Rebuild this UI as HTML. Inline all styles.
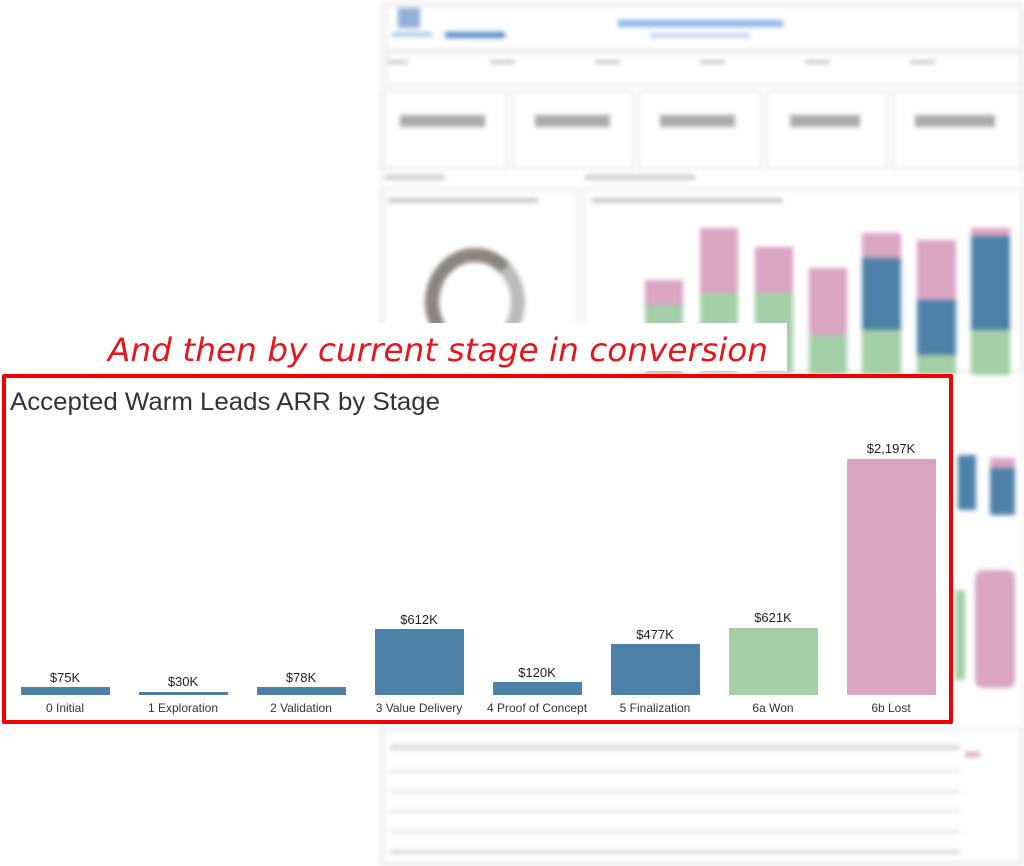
<!DOCTYPE html>
<html><head><meta charset="utf-8"><style>
body{margin:0;width:1024px;height:866px;background:#fff;position:relative;overflow:hidden;font-family:"Liberation Sans",sans-serif}
.bg{position:absolute;left:0;top:0;width:1024px;height:866px;filter:blur(2.5px)}
.a{position:absolute}
.box{position:absolute;border:2px solid #e6e6e6;background:#fff}
.g{position:absolute;background:#c9c9c9}
</style></head><body>
<div class="bg">
 <div class="box" style="left:380px;top:2px;width:640px;height:860px;border-color:#eee"></div>
 <div class="box" style="left:385px;top:5px;width:633px;height:42px"></div>
 <div class="a" style="left:398px;top:8px;width:22px;height:20px;background:#8fb0d8"></div>
 <div class="a" style="left:392px;top:32px;width:40px;height:5px;background:#b7cbe6"></div>
 <div class="a" style="left:445px;top:32px;width:60px;height:6px;background:#5a88c8"></div>
 <div class="a" style="left:618px;top:20px;width:165px;height:7px;background:#8fb5e6"></div>
 <div class="a" style="left:650px;top:33px;width:100px;height:5px;background:#c5d7f0"></div>
 <div class="box" style="left:385px;top:52px;width:633px;height:30px"></div>
 <div class="g" style="left:388px;top:60px;width:20px;height:4px"></div>
 <div class="g" style="left:490px;top:60px;width:25px;height:4px"></div>
 <div class="g" style="left:595px;top:60px;width:25px;height:4px"></div>
 <div class="g" style="left:700px;top:60px;width:25px;height:4px"></div>
 <div class="g" style="left:805px;top:60px;width:25px;height:4px"></div>
 <div class="g" style="left:910px;top:60px;width:25px;height:4px"></div>
 <div class="box" style="left:382px;top:90px;width:122px;height:75px"></div>
 <div class="box" style="left:512px;top:90px;width:118px;height:75px"></div>
 <div class="box" style="left:638px;top:90px;width:120px;height:75px"></div>
 <div class="box" style="left:766px;top:90px;width:118px;height:75px"></div>
 <div class="box" style="left:892px;top:90px;width:126px;height:75px"></div>
 <div class="g" style="left:400px;top:115px;width:85px;height:12px;background:#aaa"></div>
 <div class="g" style="left:535px;top:115px;width:75px;height:12px;background:#aaa"></div>
 <div class="g" style="left:660px;top:115px;width:75px;height:12px;background:#aaa"></div>
 <div class="g" style="left:790px;top:115px;width:70px;height:12px;background:#aaa"></div>
 <div class="g" style="left:915px;top:115px;width:80px;height:12px;background:#aaa"></div>
 <div class="g" style="left:385px;top:175px;width:60px;height:5px"></div>
 <div class="g" style="left:585px;top:175px;width:110px;height:5px"></div>
 <div class="box" style="left:382px;top:188px;width:193px;height:180px"></div>
 <div class="box" style="left:583px;top:188px;width:436px;height:180px"></div>
 <div class="g" style="left:388px;top:198px;width:150px;height:5px"></div>
 <div class="g" style="left:592px;top:198px;width:190px;height:5px"></div>
 <div class="a" style="left:425px;top:248px;width:72px;height:80px;border-radius:50%;border:14px solid #8a8580;border-right-color:#bbb;border-bottom-color:#c9c4c0"></div>
 <div class="a" style="left:645px;top:280px;width:38px;height:25px;background:#d9a5c2"></div><div class="a" style="left:645px;top:305px;width:38px;height:70px;background:#a3cfa8"></div>
 <div class="a" style="left:700px;top:228px;width:38px;height:65px;background:#d9a5c2"></div><div class="a" style="left:700px;top:293px;width:38px;height:80px;background:#a3cfa8"></div>
 <div class="a" style="left:755px;top:247px;width:38px;height:46px;background:#d9a5c2"></div><div class="a" style="left:755px;top:293px;width:38px;height:80px;background:#a3cfa8"></div>
 <div class="a" style="left:809px;top:268px;width:38px;height:67px;background:#d9a5c2"></div><div class="a" style="left:809px;top:335px;width:38px;height:40px;background:#a3cfa8"></div>
 <div class="a" style="left:862px;top:233px;width:39px;height:25px;background:#d9a5c2"></div><div class="a" style="left:862px;top:258px;width:39px;height:72px;background:#4e81a8"></div><div class="a" style="left:862px;top:330px;width:39px;height:45px;background:#a3cfa8"></div>
 <div class="a" style="left:917px;top:240px;width:39px;height:60px;background:#d9a5c2"></div><div class="a" style="left:917px;top:300px;width:39px;height:55px;background:#4e81a8"></div><div class="a" style="left:917px;top:355px;width:39px;height:20px;background:#a3cfa8"></div>
 <div class="a" style="left:971px;top:228px;width:39px;height:8px;background:#d9a5c2"></div><div class="a" style="left:971px;top:236px;width:39px;height:94px;background:#4e81a8"></div><div class="a" style="left:971px;top:330px;width:39px;height:45px;background:#a3cfa8"></div>
 <div class="a" style="left:958px;top:455px;width:18px;height:55px;background:#4e81a8"></div>
 <div class="a" style="left:990px;top:460px;width:25px;height:55px;background:#4e81a8"></div>
 <div class="a" style="left:990px;top:458px;width:25px;height:10px;background:#d9a5c2"></div>
 <div class="a" style="left:955px;top:590px;width:10px;height:90px;background:#a3cfa8"></div>
 <div class="a" style="left:975px;top:570px;width:40px;height:118px;background:#d9a5c2;border-radius:8px"></div>
 <div class="box" style="left:382px;top:728px;width:636px;height:132px"></div>
 <div class="g" style="left:390px;top:745px;width:570px;height:5px;background:#d8d8d8"></div>
 <div class="g" style="left:390px;top:770px;width:570px;height:3px;background:#e4e4e4"></div>
 <div class="g" style="left:390px;top:790px;width:570px;height:3px;background:#e4e4e4"></div>
 <div class="g" style="left:390px;top:810px;width:570px;height:3px;background:#e4e4e4"></div>
 <div class="g" style="left:390px;top:830px;width:570px;height:3px;background:#e4e4e4"></div>
 <div class="g" style="left:390px;top:850px;width:570px;height:4px;background:#d8d8d8"></div>
 <div class="a" style="left:965px;top:752px;width:15px;height:5px;background:#d9a5c2"></div>
</div>

<div class="a" style="left:90px;top:323px;width:697px;height:48px;background:#fff"></div>
<svg class="a" style="left:0;top:0" width="1024" height="866">
 <text x="108" y="361" fill="#e8141c" font-family="'DejaVu Sans',sans-serif" font-style="italic" font-size="32" textLength="660" lengthAdjust="spacingAndGlyphs">And then by current stage in conversion</text>
</svg>

<div class="a" style="left:2px;top:374px;width:943px;height:342px;border:4px solid #f20000;background:#fff;border-radius:2px"></div>
<svg class="a" style="left:0;top:0" width="1024" height="866" font-family="'Liberation Sans',sans-serif">
 <text x="10" y="410" fill="#333" font-size="25" textLength="430" lengthAdjust="spacingAndGlyphs">Accepted Warm Leads ARR by Stage</text>
 <g font-size="13" fill="#222" text-anchor="middle">
  <rect x="21" y="687" width="89" height="8" fill="#4e81a8"/><text x="65" y="682">$75K</text>
  <rect x="139" y="692" width="89" height="3" fill="#4e81a8"/><text x="183" y="686">$30K</text>
  <rect x="257" y="687" width="89" height="8" fill="#4e81a8"/><text x="301" y="682">$78K</text>
  <rect x="375" y="629" width="89" height="66" fill="#4e81a8"/><text x="419" y="624">$612K</text>
  <rect x="493" y="682" width="89" height="13" fill="#4e81a8"/><text x="537" y="677">$120K</text>
  <rect x="611" y="644" width="89" height="51" fill="#4e81a8"/><text x="655" y="639">$477K</text>
  <rect x="729" y="628" width="89" height="67" fill="#a3cfa8"/><text x="773" y="622">$621K</text>
  <rect x="847" y="459" width="89" height="236" fill="#d9a5c2"/><text x="891" y="453">$2,197K</text>
 </g>
 <g font-size="12" fill="#333" text-anchor="middle">
  <text x="65" y="712">0 Initial</text><text x="183" y="712">1 Exploration</text><text x="301" y="712">2 Validation</text><text x="419" y="712">3 Value Delivery</text><text x="537" y="712">4 Proof of Concept</text><text x="655" y="712">5 Finalization</text><text x="773" y="712">6a Won</text><text x="891" y="712">6b Lost</text>
 </g>
</svg>
</body></html>
